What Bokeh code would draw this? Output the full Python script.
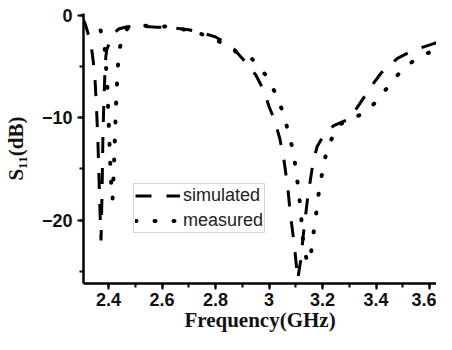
from bokeh.plotting import figure
from bokeh.models import SingleIntervalTicker, Legend, LegendItem, Range1d
from bokeh.embed import file_html
from bokeh.resources import INLINE

# simulated S11 (dB)
sim_f = [2.306, 2.315, 2.325, 2.335, 2.343, 2.350, 2.355, 2.360, 2.364, 2.368,
         2.372, 2.376, 2.379, 2.382, 2.386, 2.390, 2.394, 2.400, 2.410, 2.420,
         2.440, 2.470, 2.520, 2.580, 2.640, 2.700, 2.750, 2.800, 2.840, 2.870,
         2.900, 2.950, 2.980, 3.000, 3.020, 3.040, 3.055, 3.070, 3.080, 3.095,
         3.107, 3.118, 3.130, 3.145, 3.165, 3.180, 3.200, 3.240, 3.300, 3.340,
         3.380, 3.420, 3.480, 3.540, 3.610, 3.660, 3.690]
sim_db = [-0.4, -1.0, -1.9, -2.9, -4.5, -6.5, -9.0, -12.0, -15.5, -19.0,
          -22.0, -17.0, -12.0, -9.0, -6.0, -4.0, -3.3, -2.9, -2.2, -1.7,
          -1.3, -1.1, -1.05, -1.15, -1.2, -1.4, -1.7, -2.1, -2.7, -3.3,
          -4.2, -5.8, -7.3, -8.9, -10.2, -12.0, -14.0, -16.8, -19.5, -22.5,
          -25.8, -24.0, -21.0, -17.7, -14.3, -12.8, -11.9, -10.8, -10.1, -8.6,
          -7.0, -5.6, -4.2, -3.4, -2.8, -2.4, -2.3]

# measured S11 (dB)
meas_f = [2.306, 2.340, 2.370, 2.385, 2.395, 2.400, 2.405, 2.410, 2.415, 2.420,
          2.425, 2.430, 2.435, 2.440, 2.450, 2.470, 2.520, 2.580, 2.650, 2.720,
          2.780, 2.840, 2.890, 2.935, 2.990, 3.030, 3.055, 3.073, 3.090, 3.100,
          3.110, 3.118, 3.129, 3.144, 3.155, 3.163, 3.174, 3.181, 3.193, 3.204,
          3.222, 3.260, 3.300, 3.350, 3.394, 3.447, 3.507, 3.581, 3.652, 3.690]
meas_db = [-0.8, -1.0, -1.4, -3.0, -6.5, -10.0, -13.5, -16.5, -18.0, -15.0,
           -11.0, -7.5, -5.0, -3.5, -2.2, -1.3, -1.0, -1.0, -1.2, -1.6,
           -2.1, -2.9, -3.8, -4.2, -5.9, -7.9, -9.7, -11.5, -13.2, -15.0,
           -17.0, -19.0, -22.6, -24.2, -23.7, -21.8, -20.0, -18.1, -16.3, -14.5,
           -12.7, -10.7, -10.2, -9.6, -8.6, -6.9, -5.0, -3.8, -3.1, -2.8]

series_names = ["simulated", "measured"]
x_title = "Frequency(GHz)"
y_title = "S\u2081\u2081(dB)"

p = figure(width=436, height=334, output_backend="svg", toolbar_location=None,
           x_range=Range1d(2.3065, 3.626), y_range=Range1d(-26.2, 0.19),
           min_border_left=75, min_border_right=0, min_border_top=13,
           min_border_bottom=40)
p.outline_line_color = None
p.grid.visible = False
p.background_fill_color = "white"
p.border_fill_color = "white"

r_sim = p.line(sim_f, sim_db, line_color="black", line_width=3,
               line_dash="16 15", line_cap="butt")
r_meas = p.line(meas_f, meas_db, line_color="black", line_width=4,
                line_dash="1 18", line_cap="round")

p.xaxis.ticker = SingleIntervalTicker(interval=0.2, num_minor_ticks=2)
p.yaxis.ticker = SingleIntervalTicker(interval=10, num_minor_ticks=2)

for ax in (p.xaxis[0], p.yaxis[0]):
    ax.axis_line_width = 2.5
    ax.axis_line_color = "black"
    ax.major_tick_line_width = 2
    ax.minor_tick_line_width = 2
    ax.major_tick_out = 6
    ax.major_tick_in = 0
    ax.minor_tick_out = 4
    ax.minor_tick_in = 0
    ax.major_label_text_font = "Liberation Sans"
    ax.major_label_text_font_style = "bold"
    ax.major_label_text_font_size = "18px"
    ax.major_label_text_color = "#111111"
    ax.axis_label_text_font = "Liberation Serif"
    ax.axis_label_text_font_style = "bold"
    ax.axis_label_text_font_size = "21px"
    ax.axis_label_text_color = "#111111"

p.xaxis.axis_label = x_title
p.xaxis.major_label_standoff = 3
p.xaxis.axis_label_standoff = -1
p.yaxis.axis_label = y_title
p.yaxis.major_label_standoff = 5
p.yaxis.axis_label_standoff = 11

legend = Legend(items=[LegendItem(label=series_names[0], renderers=[r_sim]),
                       LegendItem(label=series_names[1], renderers=[r_meas])],
                location=(50, 50))
legend.label_text_font = "Liberation Sans"
legend.label_text_font_size = "18px"
legend.label_text_color = "#222222"
legend.border_line_color = "#aaaaaa"
legend.border_line_width = 1
legend.background_fill_alpha = 1.0
legend.glyph_width = 45
legend.glyph_height = 19
legend.label_height = 19
legend.label_standoff = 3
legend.spacing = 4
legend.padding = 1
legend.margin = 0
p.add_layout(legend, "center")

open("out.html", "w").write(file_html(p, INLINE))
